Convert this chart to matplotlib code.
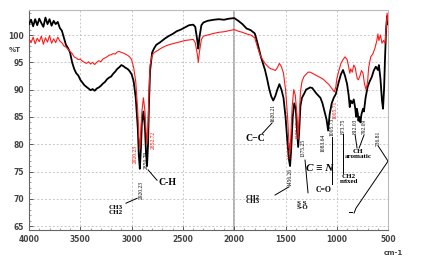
import matplotlib
matplotlib.use("Agg")
import matplotlib.pyplot as plt

# FTIR spectrum, %T vs wavenumber (cm-1)
wn_black = [4000, 3980, 3960, 3940, 3920, 3900, 3880, 3860, 3840, 3820, 3800, 3780, 3760, 3740, 3720,
            3700, 3680, 3660, 3640, 3620, 3600, 3580, 3560, 3540, 3520, 3500, 3480, 3460, 3440, 3420,
            3400, 3380, 3360, 3340, 3320, 3300, 3280, 3260, 3240, 3220, 3200, 3180, 3160, 3140, 3120,
            3100, 3080, 3060, 3040, 3020, 3000, 2980, 2960, 2940, 2930, 2920, 2910, 2900, 2885, 2870,
            2860, 2850, 2840, 2830, 2820, 2800, 2780, 2760, 2720, 2680, 2640, 2600, 2560, 2520, 2480,
            2440, 2400, 2380, 2360, 2350, 2340, 2320, 2300, 2260, 2200, 2150, 2100, 2050, 2000, 1960,
            1920, 1880, 1840, 1800, 1780, 1760, 1740, 1720, 1700, 1680, 1660, 1640, 1620, 1600, 1580,
            1560, 1540, 1520, 1500, 1480, 1465, 1456, 1445, 1430, 1415, 1400, 1390, 1377, 1368, 1355,
            1340, 1320, 1300, 1280, 1260, 1240, 1220, 1200, 1180, 1160, 1140, 1120, 1100, 1085, 1070,
            1050, 1030, 1010, 1000, 980, 960, 940, 920, 900, 885, 874, 865, 850, 835, 820,
            812, 805, 795, 790, 780, 770, 760, 745, 736, 720, 700, 680, 660, 640, 620,
            600, 590, 575, 560, 550, 540, 530, 520, 510, 500]
t_black = [102.0, 102.8, 101.6, 102.9, 101.8, 103.0, 102.2, 101.5, 103.2, 102.0, 102.9, 101.7, 102.6, 102.0, 102.4,
           101.3, 100.8, 99.5, 98.2, 97.6, 96.8, 95.0, 93.8, 93.0, 92.6, 91.8, 91.3, 90.8, 90.5, 90.2,
           89.9, 90.1, 89.8, 90.2, 90.4, 90.7, 91.1, 91.4, 91.9, 92.2, 92.4, 92.9, 93.3, 93.8, 94.1,
           94.5, 94.3, 94.0, 93.8, 93.4, 92.8, 91.5, 88.5, 83.0, 78.0, 75.5, 79.0, 84.0, 86.0, 83.0,
           78.5, 76.0, 80.0, 88.0, 93.5, 96.8, 97.6, 98.2, 98.7, 99.3, 99.8, 100.2, 100.7, 101.0, 101.4,
           101.8, 101.9, 101.5, 99.0, 97.5, 99.5, 101.8, 102.3, 102.6, 102.8, 102.9, 102.8, 103.0, 103.1, 102.6,
           102.0, 101.2, 100.9, 100.3, 99.0, 97.5, 96.0, 94.8, 93.6, 92.0, 90.2, 88.8, 88.0, 88.8, 90.0,
           91.0, 90.0, 88.5, 85.0, 80.0, 77.0, 76.0, 79.0, 85.0, 87.5, 86.5, 83.0, 79.5, 82.0, 87.0,
           88.5, 89.2, 90.0, 90.2, 90.4, 90.3, 89.8, 89.3, 88.9, 88.5, 87.5, 86.0, 84.5, 82.5, 85.5,
           87.5, 88.5, 89.2, 90.0, 91.5, 92.8, 93.6, 92.5, 91.0, 89.0, 86.8, 88.0, 87.5, 88.2, 86.5,
           85.0, 86.5, 85.5, 84.3, 85.0, 84.0, 85.5, 86.5, 86.0, 88.5, 90.5, 91.5, 92.3, 93.5, 94.2,
           93.6, 94.5, 92.0, 88.0, 86.5, 90.0, 96.0, 101.0, 103.5, 102.0]

wn_red = [4000, 3980, 3960, 3940, 3920, 3900, 3880, 3860, 3840, 3820, 3800, 3780, 3760, 3740, 3720,
          3700, 3680, 3660, 3640, 3620, 3600, 3580, 3560, 3540, 3520, 3500, 3480, 3460, 3440, 3420,
          3400, 3380, 3360, 3340, 3320, 3300, 3280, 3260, 3240, 3220, 3200, 3180, 3160, 3140, 3120,
          3100, 3080, 3060, 3040, 3020, 3000, 2980, 2960, 2940, 2930, 2920, 2910, 2900, 2885, 2870,
          2860, 2852, 2840, 2830, 2820, 2800, 2780, 2760, 2720, 2680, 2640, 2600, 2560, 2520, 2480,
          2440, 2400, 2380, 2360, 2350, 2340, 2320, 2300, 2260, 2200, 2150, 2100, 2050, 2000, 1960,
          1920, 1880, 1840, 1800, 1780, 1760, 1740, 1720, 1700, 1680, 1660, 1640, 1620, 1600, 1580,
          1560, 1540, 1520, 1500, 1480, 1468, 1458, 1448, 1435, 1420, 1405, 1390, 1377, 1368, 1355,
          1340, 1320, 1300, 1280, 1260, 1240, 1220, 1200, 1180, 1160, 1140, 1120, 1100, 1080, 1060,
          1040, 1025, 1010, 1000, 980, 960, 940, 920, 900, 885, 874, 865, 850, 835, 820,
          812, 800, 790, 775, 760, 745, 730, 715, 700, 690, 670, 650, 630, 610, 600,
          590, 575, 560, 545, 530, 520, 510, 500]
t_red = [99.2, 98.6, 99.6, 98.4, 99.4, 98.8, 99.8, 98.3, 99.5, 98.7, 99.9, 98.5, 99.3, 98.6, 99.6,
         98.9, 98.6, 98.0, 97.8, 97.4, 97.0, 96.6, 96.0, 95.8, 95.5, 95.6, 95.2, 95.0, 94.8, 95.1,
         94.7, 95.0, 94.6, 95.0, 95.3, 95.1, 95.6, 95.8, 96.0, 96.3, 96.4, 96.6, 96.5, 96.9, 97.0,
         96.8, 96.7, 96.5, 96.3, 96.0, 95.5, 94.0, 91.5, 86.0, 81.5, 79.0, 82.5, 86.0, 88.5, 86.0,
         82.5, 80.0, 83.5, 90.0, 94.5, 96.3, 96.8, 97.0, 97.5, 97.9, 98.2, 98.4, 98.6, 98.8, 99.0,
         99.1, 99.2, 98.6, 96.5, 95.0, 96.8, 99.2, 99.8, 100.0, 100.3, 100.5, 100.6, 100.8, 101.0, 100.7,
         100.5, 100.2, 100.0, 99.5, 98.2, 97.0, 96.0, 95.4, 94.8, 94.4, 94.0, 93.8, 93.7, 93.5, 94.0,
         94.8, 94.2, 93.0, 90.0, 85.0, 80.5, 78.5, 81.5, 87.0, 90.0, 89.0, 85.5, 81.0, 84.5, 89.5,
         91.5, 92.4, 92.8, 93.2, 93.2, 93.0, 92.8, 92.6, 92.4, 92.2, 92.0, 91.7, 91.3, 91.0, 90.5,
         90.0, 89.6, 90.5, 92.0, 93.5, 94.8, 95.5, 96.0, 95.5, 94.2, 93.0, 93.8, 93.2, 94.5, 94.0,
         93.0, 92.0, 91.8, 92.5, 93.5, 93.0, 91.0, 90.0, 91.5, 94.0, 96.0, 96.5, 97.5, 99.0, 100.2,
         99.0, 100.0, 98.5, 99.0, 98.5, 101.0, 104.0, 102.5]

x_ticks = [4000, 3500, 3000, 2500, 2000, 1500, 1000, 500]
y_ticks = [65, 70, 75, 80, 85, 90, 95, 100]

# peak labels: text, x, y, colour
peak_labels = [("2920.23", 2967, 78.2, "red"), ("2920.23", 2908, 71.6, "black"),
               ("2852.72", 2791, 80.8, "red"), ("2850.79", 2860, 77.1, "black"),
               ("1620.21", 1622, 85.7, "black"), ("1458.19", 1456, 79.0, "red"),
               ("1456.26", 1456, 74.0, "black"), ("1377.17", 1378, 82.6, "red"),
               ("1375.25", 1330, 79.3, "black"), ("1083.64", 1134, 80.2, "black"),
               ("1005.71", 1017, 86.3, "red"), ("1005.73", 1047, 83.2, "black"),
               ("873.75", 939, 83.2, "black"), ("812.03", 822, 83.2, "black"),
               ("792.09", 735, 83.2, "black"), ("736.81", 598, 81.1, "black")]

# group labels: text, x, y
group_labels = [("CH3\nCH2", 3152, 68.0, 5), ("C-H", 2655, 72.9, 7), ("C\u2212C", 1797, 81.1, 7),
                ("CH2\nCH3", 1817, 69.9, 5), ("S S\nS-O", 1339, 68.8, 5),
                ("C=O", 1125, 71.6, 5.5), ("CH2\nmixed", 881, 73.6, 5),
                ("CH\naromatic", 790, 78.2, 5)]

# leader lines
leaders = [([2947, 3055], [70.1, 69.2]), ([2840, 2752], [75.3, 73.4]),
           ([1631, 1729], [83.9, 81.9]), ([1466, 1602], [72.2, 70.7]),
           ([1310, 1281], [77.1, 71.1]), ([1047, 1047], [81.3, 72.7]),
           ([939, 939], [81.9, 74.7]), ([822, 803], [81.7, 79.3]), ([735, 783], [81.7, 79.3]),
           ([598, 501, 813, 832], [79.7, 76.9, 68.3, 67.4]), ([880, 850], [67.6, 67.6])]

fig = plt.figure(figsize=(4.23, 2.61), dpi=100)
ax = fig.add_axes([0.0686, 0.119, 0.849, 0.843])

ax.grid(True, linestyle=(0, (2, 2)), color="#c8c8c8", linewidth=0.7)
ax.axvline(2000, color="#b0b0b0", linewidth=1.4, zorder=1)

ax.plot(wn_black, t_black, color="black", linewidth=1.3, zorder=3)
ax.plot(wn_red, t_red, color="#ff1a1a", linewidth=0.8, zorder=4)

ax.set_xlim(4000, 500)
ax.set_ylim(64.3, 104.6)
ax.set_xticks(x_ticks)
ax.set_yticks(y_ticks)
ax.set_xticks(range(500, 4001, 100), minor=True)
ax.set_yticks(range(65, 105), minor=True)
ax.tick_params(direction="in", labelsize=5.5, colors="#444444", length=3, width=0.6)
ax.tick_params(which="minor", direction="in", length=1.5, width=0.5, colors="#777777")
for lab in ax.get_xticklabels() + ax.get_yticklabels():
    lab.set_fontweight("bold")
for side in ["left", "bottom"]:
    ax.spines[side].set_color("#666666")
    ax.spines[side].set_linewidth(0.8)
for side in ["top", "right"]:
    ax.spines[side].set_color("#bbbbbb")
    ax.spines[side].set_linewidth(0.8)

ax.text(4136, 97.3, "%T", fontsize=5, fontweight="bold", color="#444444",
        ha="center", va="center", clip_on=False)
ax.text(452, 60.1, "cm-1", fontsize=5, fontweight="bold", color="#444444",
        ha="center", va="center", clip_on=False)

for txt, x, y, c in peak_labels:
    ax.text(x, y, txt, rotation=90, fontsize=4, color=c, ha="center", va="center",
            family="Liberation Serif", zorder=5)

for txt, x, y, fs in group_labels:
    ax.text(x, y, txt, fontsize=fs, ha="center", va="center", family="Liberation Serif",
            fontweight="bold", linespacing=0.9, zorder=5)
ax.text(1164, 75.5, "C \u2261 N", fontsize=8, ha="center", va="center",
        family="Liberation Serif", fontweight="bold", style="italic", zorder=5)

for xs, ys in leaders:
    ax.plot(xs, ys, color="black", linewidth=0.7, zorder=5)

fig.savefig("out.png", dpi=100)
